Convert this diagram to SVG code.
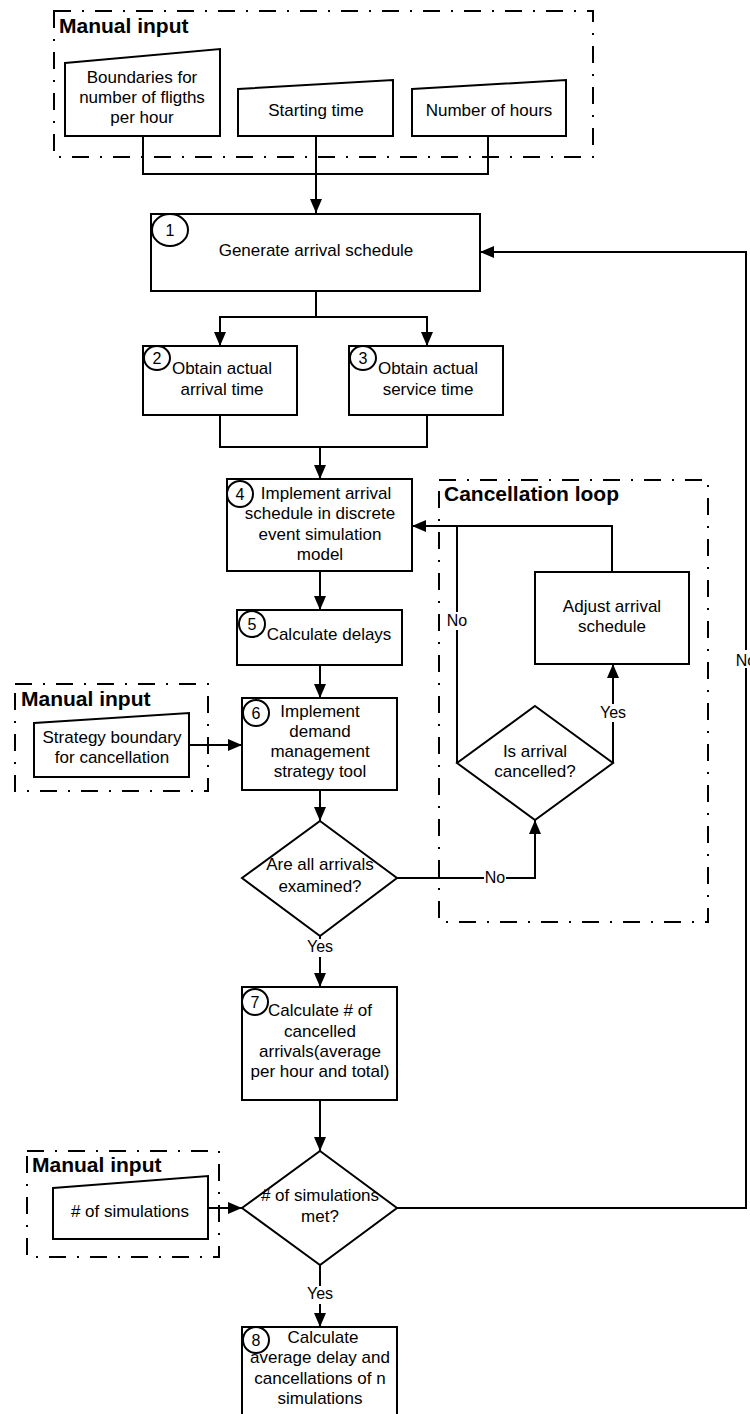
<svg xmlns="http://www.w3.org/2000/svg" width="750" height="1414" viewBox="0 0 750 1414">
<style>
.bg{fill:#fff}
.box{fill:#fff;stroke:#000;stroke-width:2}
.grp{fill:none;stroke:#000;stroke-width:2;stroke-dasharray:17 11 2 11}
.num{fill:#fff;stroke:#000;stroke-width:2}
.ln{fill:none;stroke:#000;stroke-width:2}
.arr{fill:none;stroke:#000;stroke-width:2;marker-end:url(#ah)}
text{font-family:"Liberation Sans",Arial,sans-serif;fill:#000}
.t{font-size:17px;text-anchor:middle}
.n{font-size:16px;text-anchor:middle}
.lbl{font-size:16px;text-anchor:middle}
.ttl{font-size:21px;font-weight:bold}
</style>
<defs>
<marker id="ah" markerUnits="userSpaceOnUse" markerWidth="14" markerHeight="12" refX="14" refY="6" orient="auto">
<path d="M0,0 L14,6 L0,12 z" fill="#000"/>
</marker>
</defs>
<rect class="bg" x="0" y="0" width="750" height="1414"/>

<g id="connectors">
<path class="ln" d="M143,136 V174 H488 V136"/>
<path class="arr" d="M316,136 V213"/>
<path class="arr" d="M316,291 V317 H220 V346"/>
<path class="arr" d="M316,317 H427 V346"/>
<path class="ln" d="M220,415 V447 H427 V415"/>
<path class="arr" d="M320,447 V479"/>
<path class="arr" d="M320,571 V610"/>
<path class="arr" d="M320,665 V698"/>
<path class="arr" d="M189,745 H242"/>
<path class="arr" d="M320,790 V821"/>
<path class="arr" d="M320,936 V987"/>
<path class="arr" d="M397,878 H535 V820"/>
<path class="arr" d="M613,763 V664"/>
<path class="arr" d="M612,572 V526 H412"/>
<path class="ln" d="M457,763 V526"/>
<path class="arr" d="M320,1100 V1151"/>
<path class="arr" d="M208,1208 H242"/>
<path class="arr" d="M397,1208 H746 V252 H480"/>
<path class="arr" d="M320,1265 V1327"/>
<rect class="bg" x="307" y="939" width="26" height="18"/>
<text class="lbl" x="320" y="952">Yes</text>
<rect class="bg" x="484" y="866" width="22" height="18"/>
<text class="lbl" x="495" y="883">No</text>
<rect class="bg" x="600" y="704" width="26" height="18"/>
<text class="lbl" x="613" y="718">Yes</text>
<rect class="bg" x="446" y="612" width="22" height="18"/>
<text class="lbl" x="457" y="626">No</text>
<rect class="bg" x="735" y="650" width="22" height="18"/>
<text class="lbl" x="746" y="666">No</text>
<rect class="bg" x="307" y="1286" width="26" height="18"/>
<text class="lbl" x="320" y="1299">Yes</text>
</g>

<g id="manual-input-1">
<rect class="grp" x="54" y="11" width="539" height="146"/>
<text class="ttl" x="59" y="33">Manual input</text>
</g>
<g id="in-boundaries">
<path class="box" d="M65,63 L220,49 L220,136 L65,136 Z"/>
<text class="t" x="142" y="83">Boundaries for</text>
<text class="t" x="142" y="103">number of fligths</text>
<text class="t" x="142" y="123">per hour</text>
</g>
<g id="in-starting">
<path class="box" d="M238,89 L393,80 L393,136 L238,136 Z"/>
<text class="t" x="316" y="116">Starting time</text>
</g>
<g id="in-hours">
<path class="box" d="M412,89 L566,80 L566,136 L412,136 Z"/>
<text class="t" x="489" y="116">Number of hours</text>
</g>

<g id="n1">
<rect class="box" x="151" y="214" width="329" height="77"/>
<ellipse class="num" cx="170" cy="230" rx="18" ry="16"/>
<text class="n" x="170" y="236">1</text>
<text class="t" x="316" y="256">Generate arrival schedule</text>
</g>
<g id="n2">
<rect class="box" x="143" y="346" width="154" height="69"/>
<ellipse class="num" cx="157" cy="358" rx="13" ry="12"/>
<text class="n" x="157" y="364">2</text>
<text class="t" x="222" y="374">Obtain actual</text>
<text class="t" x="222" y="395">arrival time</text>
</g>
<g id="n3">
<rect class="box" x="349" y="346" width="154" height="69"/>
<ellipse class="num" cx="363" cy="358" rx="13" ry="12"/>
<text class="n" x="363" y="364">3</text>
<text class="t" x="428" y="374">Obtain actual</text>
<text class="t" x="428" y="395">service time</text>
</g>
<g id="n4">
<rect class="box" x="227" y="479" width="185" height="92"/>
<ellipse class="num" cx="240" cy="494" rx="13" ry="13"/>
<text class="n" x="240" y="500">4</text>
<text class="t" x="326" y="499">Implement arrival</text>
<text class="t" x="320" y="519">schedule in discrete</text>
<text class="t" x="320" y="540">event simulation</text>
<text class="t" x="320" y="560">model</text>
</g>
<g id="n5">
<rect class="box" x="237" y="610" width="165" height="55"/>
<ellipse class="num" cx="252" cy="624" rx="13" ry="13"/>
<text class="n" x="252" y="630">5</text>
<text class="t" x="329" y="640">Calculate delays</text>
</g>

<g id="manual-input-2">
<rect class="grp" x="15" y="684" width="193" height="107"/>
<text class="ttl" x="21" y="706">Manual input</text>
</g>
<g id="in-strategy">
<path class="box" d="M34,723 L189,713 L189,777 L34,777 Z"/>
<text class="t" x="112" y="743">Strategy boundary</text>
<text class="t" x="112" y="763">for cancellation</text>
</g>
<g id="n6">
<rect class="box" x="242" y="698" width="155" height="92"/>
<ellipse class="num" cx="256" cy="713" rx="13" ry="13"/>
<text class="n" x="256" y="719">6</text>
<text class="t" x="320" y="717">Implement</text>
<text class="t" x="320" y="737">demand</text>
<text class="t" x="320" y="757">management</text>
<text class="t" x="320" y="777">strategy tool</text>
</g>
<g id="d-all-examined">
<path class="box" d="M320,821 L397,878 L320,936 L242,878 Z"/>
<text class="t" x="320" y="870">Are all arrivals</text>
<text class="t" x="320" y="892">examined?</text>
</g>

<g id="cancellation-loop">
<rect class="grp" x="439" y="480" width="269" height="442"/>
<text class="ttl" x="444" y="501">Cancellation loop</text>
</g>
<g id="adjust">
<rect class="box" x="535" y="572" width="154" height="92"/>
<text class="t" x="612" y="612">Adjust arrival</text>
<text class="t" x="612" y="632">schedule</text>
</g>
<g id="d-cancelled">
<path class="box" d="M535,706 L613,763 L535,820 L457,763 Z"/>
<text class="t" x="535" y="757">Is arrival</text>
<text class="t" x="535" y="777">cancelled?</text>
</g>

<g id="n7">
<rect class="box" x="242" y="987" width="155" height="113"/>
<ellipse class="num" cx="255" cy="1002" rx="13" ry="13"/>
<text class="n" x="255" y="1008">7</text>
<text class="t" x="320" y="1016">Calculate # of</text>
<text class="t" x="320" y="1037">cancelled</text>
<text class="t" x="320" y="1057">arrivals(average</text>
<text class="t" x="320" y="1077">per hour and total)</text>
</g>

<g id="manual-input-3">
<rect class="grp" x="27" y="1151" width="192" height="106"/>
<text class="ttl" x="32" y="1172">Manual input</text>
</g>
<g id="in-simulations">
<path class="box" d="M53,1188 L208,1176 L208,1239 L53,1239 Z"/>
<text class="t" x="130" y="1217"># of simulations</text>
</g>
<g id="d-simulations">
<path class="box" d="M320,1151 L397,1208 L320,1265 L242,1208 Z"/>
<text class="t" x="320" y="1201"># of simulations</text>
<text class="t" x="320" y="1222">met?</text>
</g>

<g id="n8">
<rect class="box" x="242" y="1327" width="155" height="100"/>
<ellipse class="num" cx="256" cy="1340" rx="13" ry="13"/>
<text class="n" x="256" y="1346">8</text>
<text class="t" x="323" y="1343">Calculate</text>
<text class="t" x="320" y="1363">average delay and</text>
<text class="t" x="320" y="1384">cancellations of n</text>
<text class="t" x="320" y="1404">simulations</text>
</g>
</svg>
